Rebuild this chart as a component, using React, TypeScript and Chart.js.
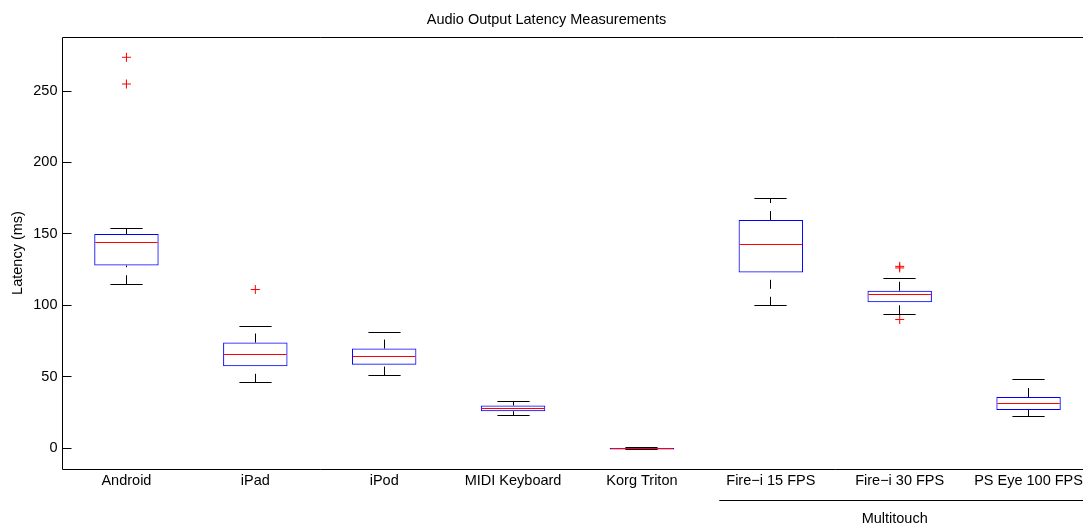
import React, { useEffect, useRef } from 'react';
import { Chart, registerables } from 'chart.js';

Chart.register(...registerables);

const chartTitle = 'Audio Output Latency Measurements';
const yAxisTitle = 'Latency (ms)';
const categories = ['Android', 'iPad', 'iPod', 'MIDI Keyboard', 'Korg Triton', 'Fire\u2212i 15 FPS', 'Fire\u2212i 30 FPS', 'PS Eye 100 FPS'];
const lowerWhisker = [114.8, 45.8, 50.9, 23.1, -0.8, 99.7, 93.8, 21.9];
const q1Values = [127.9, 57.4, 58.4, 25.9, -0.8, 123.0, 102.2, 26.8];
const medianValues = [144.2, 65.8, 64.0, 27.5, 0.0, 142.9, 107.8, 31.3];
const q3Values = [149.9, 74.0, 69.8, 29.9, 0.2, 159.7, 110.2, 35.9];
const upperWhisker = [153.8, 85.2, 81.0, 32.9, 0.2, 174.8, 118.8, 47.8];
const outlierCategories = ['Android', 'Android', 'iPad', 'Fire\u2212i 30 FPS', 'Fire\u2212i 30 FPS', 'Fire\u2212i 30 FPS'];
const outlierValues = [273.6, 254.9, 111.1, 126.2, 127.3, 90.1];
const yTicks = [0, 50, 100, 150, 200, 250];
const yMin = -14.5;
const yMax = 287.8;
const groupLabel = 'Multitouch';
const groupFirst = 5;
const groupLast = 7;

const FONT_FAMILY = '"Liberation Sans", Arial, Helvetica, sans-serif';
const font = { family: FONT_FAMILY, size: 14.5 };

const crisp = (v: number) => Math.floor(v) + 0.5;

const boxPlugin = {
  id: 'boxParts',
  beforeDatasetsDraw(chart: any) {
    const { ctx, scales } = chart;
    const x = scales.x;
    const y = scales.y;
    const meta = chart.getDatasetMeta(1);
    ctx.save();
    ctx.strokeStyle = '#000';
    ctx.lineWidth = 1;
    categories.forEach((_, i) => {
      const bar = meta.data[i];
      const cx = crisp(x.getPixelForValue(i));
      const capHalf = bar.width / 4;
      const yMaxP = y.getPixelForValue(upperWhisker[i]);
      const yQ3 = y.getPixelForValue(q3Values[i]);
      const yQ1 = y.getPixelForValue(q1Values[i]);
      const yMinP = y.getPixelForValue(lowerWhisker[i]);
      ctx.setLineDash([9, 8]);
      ctx.beginPath();
      ctx.moveTo(cx, yQ3);
      ctx.lineTo(cx, yMaxP);
      ctx.stroke();
      ctx.beginPath();
      ctx.moveTo(cx, yMinP);
      ctx.lineTo(cx, yQ1);
      ctx.stroke();
      ctx.setLineDash([]);
      ctx.beginPath();
      ctx.moveTo(cx - capHalf, crisp(yMaxP));
      ctx.lineTo(cx + capHalf, crisp(yMaxP));
      ctx.moveTo(cx - capHalf, crisp(yMinP));
      ctx.lineTo(cx + capHalf, crisp(yMinP));
      ctx.stroke();
    });
    ctx.restore();
  },
  afterDatasetsDraw(chart: any) {
    const { ctx, scales } = chart;
    const y = scales.y;
    const meta = chart.getDatasetMeta(1);
    ctx.save();
    ctx.strokeStyle = '#ff0000';
    ctx.lineWidth = 1;
    categories.forEach((_, i) => {
      const bar = meta.data[i];
      const py = crisp(y.getPixelForValue(medianValues[i]));
      ctx.beginPath();
      ctx.moveTo(bar.x - bar.width / 2 + 1, py);
      ctx.lineTo(bar.x + bar.width / 2 - 1, py);
      ctx.stroke();
    });
    ctx.restore();
  },
  afterDraw(chart: any) {
    const { ctx, chartArea, scales } = chart;
    const { left, right, top, bottom } = chartArea;
    const x = scales.x;
    const y = scales.y;
    ctx.save();
    ctx.strokeStyle = '#000';
    ctx.lineWidth = 1;
    const l = crisp(left);
    const r = crisp(right);
    const t = crisp(top);
    const b = crisp(bottom);
    ctx.beginPath();
    ctx.moveTo(l, t);
    ctx.lineTo(r, t);
    ctx.lineTo(r, b);
    ctx.lineTo(l, b);
    ctx.closePath();
    ctx.stroke();
    ctx.beginPath();
    yTicks.forEach((v) => {
      const py = crisp(y.getPixelForValue(v));
      ctx.moveTo(l, py);
      ctx.lineTo(l + 9, py);
      ctx.moveTo(r, py);
      ctx.lineTo(r - 9, py);
    });
    ctx.stroke();
    const step = x.getPixelForValue(1) - x.getPixelForValue(0);
    const gx0 = x.getPixelForValue(groupFirst) - step * 0.4;
    const gx1 = x.getPixelForValue(groupLast) + step * 0.6;
    const gy = crisp(bottom + 31.5);
    ctx.beginPath();
    ctx.moveTo(gx0, gy);
    ctx.lineTo(gx1, gy);
    ctx.stroke();
    ctx.fillStyle = '#000';
    ctx.font = `14.5px ${FONT_FAMILY}`;
    ctx.textAlign = 'center';
    ctx.textBaseline = 'middle';
    const tx = (x.getPixelForValue(groupFirst) + x.getPixelForValue(groupLast)) / 2 - 5;
    ctx.fillText(groupLabel, tx, bottom + 50);
    ctx.restore();
  },
};

export default function App() {
  const canvasRef = useRef<HTMLCanvasElement | null>(null);

  useEffect(() => {
    const canvas = canvasRef.current;
    if (!canvas) return;
    const chart = new Chart(canvas, {
      type: 'bar',
      data: {
        labels: categories,
        datasets: [
          {
            type: 'line',
            label: 'Outliers',
            data: outlierCategories.map((c, i) => ({ x: c, y: outlierValues[i] })) as any,
            showLine: false,
            pointStyle: 'cross',
            pointRadius: 4.5,
            pointHoverRadius: 4.5,
            pointBorderColor: '#ff0000',
            pointBackgroundColor: 'rgba(0,0,0,0)',
            pointBorderWidth: 1,
          } as any,
          {
            type: 'bar',
            label: 'Box',
            data: categories.map((_, i) => [q1Values[i], q3Values[i]]) as any,
            backgroundColor: 'rgba(0,0,0,0)',
            borderColor: '#0000ff',
            borderWidth: 1,
            borderSkipped: false,
            barPercentage: 1,
            categoryPercentage: 0.5,
            grouped: false,
          } as any,
        ],
      },
      options: {
        animation: false,
        responsive: false,
        maintainAspectRatio: false,
        layout: { padding: { left: 0, right: 7, top: 0, bottom: 0 } },
        plugins: {
          legend: { display: false },
          tooltip: { enabled: false },
          title: {
            display: true,
            text: chartTitle,
            color: '#000',
            font: { family: FONT_FAMILY, size: 14.5, weight: 'normal' },
            padding: { top: 11, bottom: 8.6 },
          },
        },
        scales: {
          x: {
            type: 'category',
            offset: true,
            grid: { display: false, drawTicks: false },
            border: { display: false },
            ticks: { padding: 3.3, font, color: '#000', autoSkip: false, maxRotation: 0 },
            afterFit(scale: any) {
              scale.height = 58;
            },
          },
          y: {
            type: 'linear',
            min: yMin,
            max: yMax,
            grid: { display: false, drawTicks: false },
            border: { display: false },
            ticks: { padding: 4.5, font, color: '#000' },
            afterBuildTicks(scale: any) {
              scale.ticks = yTicks.map((v) => ({ value: v }));
            },
            afterFit(scale: any) {
              scale.width = 62;
            },
            title: {
              display: true,
              text: yAxisTitle,
              color: '#000',
              font,
              padding: { top: 9.6, bottom: 0 },
            },
          },
        },
      } as any,
      plugins: [boxPlugin],
    });
    return () => chart.destroy();
  }, []);

  return (
    <div style={{ position: 'absolute', left: 0, top: 0, width: 1083, height: 527, overflow: 'hidden', background: '#fff' }}>
      <canvas ref={canvasRef} width={1100} height={527} style={{ display: 'block', width: 1100, height: 527 }} />
    </div>
  );
}
